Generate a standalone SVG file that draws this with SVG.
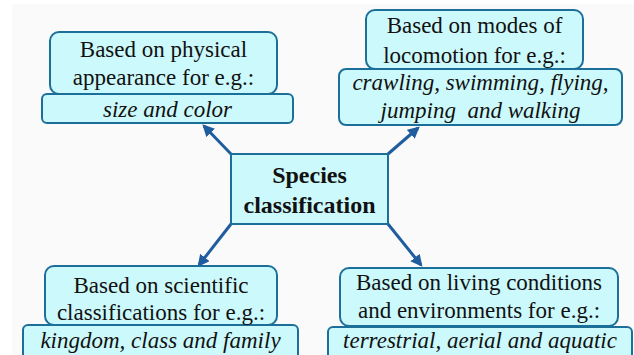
<svg xmlns="http://www.w3.org/2000/svg" width="634" height="355" viewBox="0 0 634 355">
<defs>
<marker id="ah" viewBox="0 0 10 10" refX="8" refY="5" markerWidth="4" markerHeight="4" orient="auto" markerUnits="strokeWidth">
<path d="M0,0 L10,5 L0,10 z" fill="#1f5d9e"/>
</marker>
</defs>
<rect x="0" y="0" width="634" height="355" fill="#ffffff"/>
<rect x="12" y="4" width="622" height="351" fill="#fafafa"/>
<g id="connectors" stroke="#1f5d9e" stroke-width="3" fill="none" marker-end="url(#ah)">
<line x1="231" y1="154" x2="204" y2="126"/>
<line x1="388" y1="154" x2="418" y2="128"/>
<line x1="231" y1="224" x2="199" y2="265"/>
<line x1="388" y1="224" x2="421" y2="265"/>
</g>
<g id="center">
<rect x="231" y="154" width="157" height="70" fill="#ccf9fc" stroke="#1b6f98" stroke-width="2"/>
<text font-family="Liberation Serif" font-size="24" font-weight="bold" fill="#111" text-anchor="middle" x="309.5" y="183">Species</text>
<text font-family="Liberation Serif" font-size="24" font-weight="bold" fill="#111" text-anchor="middle" x="309.5" y="213">classification</text>
</g>
<g id="physical" fill="#ccf9fc" stroke="#1b6f98" stroke-width="2">
<rect x="50" y="32" width="227" height="62" rx="9"/>
<rect x="42" y="94" width="251" height="29" rx="5"/>
<text font-family="Liberation Serif" font-size="23" fill="#111" stroke="none" text-anchor="middle" x="163.5" y="57">Based on physical</text>
<text font-family="Liberation Serif" font-size="23" fill="#111" stroke="none" text-anchor="middle" x="163.5" y="85">appearance for e.g.:</text>
<text font-family="Liberation Serif" font-size="23" font-style="italic" fill="#111" stroke="none" text-anchor="middle" x="167.5" y="117">size and color</text>
</g>
<g id="locomotion" fill="#ccf9fc" stroke="#1b6f98" stroke-width="2">
<rect x="366" y="10" width="217" height="59" rx="9"/>
<rect x="339" y="69" width="283" height="56" rx="7"/>
<text font-family="Liberation Serif" font-size="23" fill="#111" stroke="none" text-anchor="middle" x="474.5" y="33">Based on modes of</text>
<text font-family="Liberation Serif" font-size="23" fill="#111" stroke="none" text-anchor="middle" x="474.5" y="63">locomotion for e.g.:</text>
<text font-family="Liberation Serif" font-size="23" font-style="italic" fill="#111" stroke="none" text-anchor="middle" x="480.5" y="90">crawling, swimming, flying,</text>
<text font-family="Liberation Serif" font-size="23" font-style="italic" fill="#111" stroke="none" text-anchor="middle" x="480.5" y="118" xml:space="preserve">jumping  and walking</text>
</g>
<g id="scientific" fill="#ccf9fc" stroke="#1b6f98" stroke-width="2">
<rect x="45" y="266" width="232" height="59" rx="9"/>
<rect x="23" y="325" width="275" height="36" rx="5"/>
<text font-family="Liberation Serif" font-size="23" fill="#111" stroke="none" text-anchor="middle" x="161" y="293">Based on scientific</text>
<text font-family="Liberation Serif" font-size="23" fill="#111" stroke="none" text-anchor="middle" x="161" y="320">classifications for e.g.:</text>
<text font-family="Liberation Serif" font-size="23" font-style="italic" fill="#111" stroke="none" text-anchor="middle" x="160.5" y="348">kingdom, class and family</text>
</g>
<g id="living" fill="#ccf9fc" stroke="#1b6f98" stroke-width="2">
<rect x="340" y="268" width="278" height="58" rx="9"/>
<rect x="328" y="327" width="304" height="34" rx="5"/>
<text font-family="Liberation Serif" font-size="23" fill="#111" stroke="none" text-anchor="middle" x="479" y="290">Based on living conditions</text>
<text font-family="Liberation Serif" font-size="23" fill="#111" stroke="none" text-anchor="middle" x="479" y="318">and environments for e.g.:</text>
<text font-family="Liberation Serif" font-size="23" font-style="italic" fill="#111" stroke="none" text-anchor="middle" x="480" y="348">terrestrial, aerial and aquatic</text>
</g>
</svg>
